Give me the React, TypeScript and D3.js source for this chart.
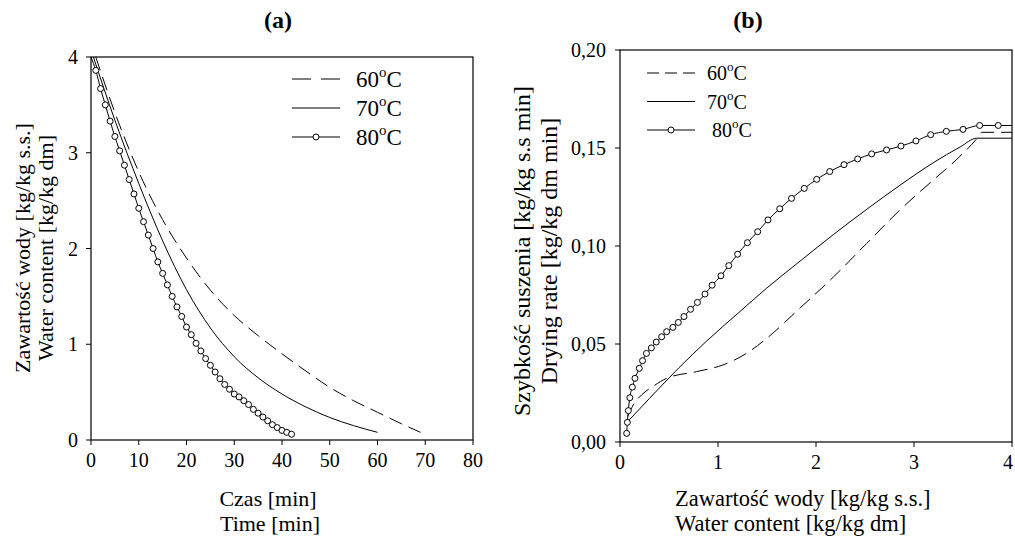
import React from 'react';
import * as d3 from 'd3';

// ---------- Panel (a) data: water content vs time ----------
const timeTicks = [0, 10, 20, 30, 40, 50, 60, 70, 80];
const waterTicksA = [0, 1, 2, 3, 4];

const time60 = [1, 5, 10, 15, 20, 25, 30, 35, 40, 45, 50, 55, 60, 65, 69];
const water60 = [4.0, 3.42, 2.8, 2.3, 1.9, 1.565, 1.3, 1.09, 0.9, 0.72, 0.55, 0.41, 0.29, 0.17, 0.08];

const time70 = [0.5, 5, 10, 15, 20, 25, 30, 35, 40, 45, 50, 55, 60];
const water70 = [4.0, 3.34, 2.68, 2.08, 1.57, 1.17, 0.87, 0.65, 0.48, 0.345, 0.235, 0.15, 0.08];

const time80 = [0, 1, 2, 3, 4, 5, 6, 7, 8, 9, 10, 11, 12, 13, 14, 15, 16, 17, 18, 19, 20, 21, 22, 23, 24, 25, 26, 27, 28, 29, 30, 31, 32, 33, 34, 35, 36, 37, 38, 39, 40, 41, 42];
const water80 = [4.0, 3.86, 3.67, 3.5, 3.33, 3.17, 3.02, 2.87, 2.72, 2.57, 2.42, 2.28, 2.14, 2.0, 1.86, 1.74, 1.62, 1.5, 1.39, 1.29, 1.18, 1.1, 1.01, 0.93, 0.85, 0.78, 0.71, 0.64, 0.58, 0.53, 0.48, 0.45, 0.41, 0.37, 0.32, 0.28, 0.24, 0.2, 0.16, 0.13, 0.1, 0.08, 0.06];

// ---------- Panel (b) data: drying rate vs water content ----------
const waterTicksB = [0, 1, 2, 3, 4];
const rateTicks = [0, 0.05, 0.1, 0.15, 0.2];

const rateX60 = [0.078, 0.136, 0.22, 0.34, 0.476, 0.78, 1.05, 1.29, 1.5, 1.84, 2.18, 2.517, 2.857, 3.197, 3.43, 3.66, 3.69, 4.0];
const rate60 = [0.013, 0.019, 0.024, 0.0285, 0.0325, 0.0359, 0.0393, 0.0452, 0.053, 0.0685, 0.0843, 0.1013, 0.1184, 0.1337, 0.1439, 0.156, 0.158, 0.158];

const rateX70 = [0.078, 0.3, 0.6, 0.884, 1.2, 1.497, 1.85, 2.177, 2.517, 2.857, 3.197, 3.47, 3.64, 4.0];
const rate70 = [0.0104, 0.0222, 0.0378, 0.0515, 0.0655, 0.0785, 0.0928, 0.1058, 0.1187, 0.131, 0.1425, 0.1505, 0.155, 0.155];

const rateX80 = [0.068, 0.075, 0.085, 0.1, 0.126, 0.153, 0.197, 0.23, 0.27, 0.32, 0.37, 0.425, 0.476, 0.54, 0.595, 0.653, 0.72, 0.79, 0.867, 0.94, 1.03, 1.11, 1.2, 1.3, 1.405, 1.51, 1.63, 1.75, 1.88, 2.007, 2.14, 2.286, 2.425, 2.568, 2.72, 2.867, 3.02, 3.17, 3.33, 3.5, 3.67, 3.86];
const rate80 = [0.0044, 0.01, 0.016, 0.0226, 0.028, 0.0325, 0.0376, 0.0415, 0.0452, 0.048, 0.051, 0.0537, 0.0563, 0.0585, 0.061, 0.064, 0.0677, 0.0712, 0.0755, 0.08, 0.0848, 0.09, 0.0958, 0.1017, 0.1073, 0.1133, 0.119, 0.1243, 0.1294, 0.134, 0.138, 0.1415, 0.1444, 0.147, 0.149, 0.151, 0.1536, 0.1568, 0.1585, 0.1595, 0.1615, 0.1615];
const rate80EndX = 4.0;

const legendLabels = ['60', '70', '80'];

const FONT = '"Liberation Serif", "Times New Roman", serif';
const DASH = '14,7';

type Pt = [number, number];
const zip = (a: number[], b: number[]): Pt[] => a.map((v, i) => [v, b[i]]);

function Legend({ x, y, gap, textX, extraSpace, fontSize, dash }: { x: number; y: number; gap: number; textX: number; extraSpace: number; fontSize: number; dash: string }) {
  const len = 48;
  return (
    <g>
      {legendLabels.map((lab, i) => {
        const yy = y + i * gap;
        return (
          <g key={lab}>
            <line x1={x} x2={x + len} y1={yy} y2={yy} stroke="#000" strokeWidth={1}
              strokeDasharray={i === 0 ? dash : undefined} />
            {i === 2 && <circle cx={x + len / 2} cy={yy} r={3} fill="#fff" stroke="#000" strokeWidth={1} />}
            <text x={textX + (i === 2 ? extraSpace : 0)} y={yy + fontSize * 0.35} fontSize={fontSize} fontFamily={FONT}>
              {lab}
              <tspan fontSize={fontSize * 0.65} dy={-fontSize * 0.45}>o</tspan>
              <tspan dy={fontSize * 0.45}>C</tspan>
            </text>
          </g>
        );
      })}
    </g>
  );
}

export default function App() {
  // Panel (a) scales
  const ax = d3.scaleLinear().domain([0, 80]).range([91, 473]);
  const ay = d3.scaleLinear().domain([0, 4]).range([440, 57]);
  // Panel (b) scales
  const bx = d3.scaleLinear().domain([0, 4]).range([620, 1012]);
  const by = d3.scaleLinear().domain([0, 0.2]).range([442, 50]);

  const lineA = d3.line<Pt>().x(d => ax(d[0])).y(d => ay(d[1])).curve(d3.curveMonotoneX);
  const lineB = d3.line<Pt>().x(d => bx(d[0])).y(d => by(d[1])).curve(d3.curveMonotoneX);

  const a60 = zip(time60, water60);
  const a70 = zip(time70, water70);
  const a80 = zip(time80, water80);
  const b60 = zip(rateX60, rate60);
  const b70 = zip(rateX70, rate70);
  const b80 = zip(rateX80, rate80);
  const b80line: Pt[] = [...b80, [rate80EndX, rate80[rate80.length - 1]]];

  const tickLen = 5;

  return (
    <svg width={1015} height={540} style={{ position: 'absolute', left: 0, top: 0 }} fontFamily={FONT}>
      <rect x={0} y={0} width={1015} height={540} fill="#fff" />
      {/* ---------------- Panel (a) ---------------- */}
      <text x={278} y={28} textAnchor="middle" fontSize={24} fontWeight="bold">(a)</text>
      <path d={lineA(a60) || ''} fill="none" stroke="#000" strokeWidth={1} strokeDasharray={DASH} />
      <path d={lineA(a70) || ''} fill="none" stroke="#000" strokeWidth={1} />
      <path d={lineA(a80) || ''} fill="none" stroke="#000" strokeWidth={1} />
      {a80.slice(1).map((d, i) => (
        <circle key={i} cx={ax(d[0])} cy={ay(d[1])} r={3} fill="#fff" stroke="#000" strokeWidth={1} />
      ))}
      <rect x={ax(0)} y={ay(4)} width={ax(80) - ax(0)} height={ay(0) - ay(4)} fill="none" stroke="#000" strokeWidth={1.2} />
      {timeTicks.map(t => (
        <g key={t}>
          <line x1={ax(t)} x2={ax(t)} y1={ay(0)} y2={ay(0) + tickLen} stroke="#000" />
          <text x={ax(t)} y={467} textAnchor="middle" fontSize={20}>{t}</text>
        </g>
      ))}
      {waterTicksA.map(t => (
        <g key={t}>
          <line x1={ax(0) - tickLen} x2={ax(0)} y1={ay(t)} y2={ay(t)} stroke="#000" />
          <text x={78} y={ay(t)} dy="0.35em" textAnchor="end" fontSize={20}>{t}</text>
        </g>
      ))}
      <text x={268} y={506} textAnchor="middle" fontSize={22}>Czas [min]</text>
      <text x={270} y={531} textAnchor="middle" fontSize={22}>Time [min]</text>
      <text transform={`translate(30,248) rotate(-90)`} textAnchor="middle" fontSize={22}>Zawartość wody [kg/kg s.s.]</text>
      <text transform={`translate(53,248) rotate(-90)`} textAnchor="middle" fontSize={22}>Water content [kg/kg dm]</text>
      <Legend x={292} y={79} gap={29} textX={356} extraSpace={0} fontSize={23} dash="19,10" />

      {/* ---------------- Panel (b) ---------------- */}
      <text x={748} y={28} textAnchor="middle" fontSize={24} fontWeight="bold">(b)</text>
      <path d={lineB(b60) || ''} fill="none" stroke="#000" strokeWidth={1} strokeDasharray={DASH} />
      <path d={lineB(b70) || ''} fill="none" stroke="#000" strokeWidth={1} />
      <path d={lineB(b80line) || ''} fill="none" stroke="#000" strokeWidth={1} />
      {b80.map((d, i) => (
        <circle key={i} cx={bx(d[0])} cy={by(d[1])} r={3} fill="#fff" stroke="#000" strokeWidth={1} />
      ))}
      <rect x={bx(0)} y={by(0.2)} width={bx(4) - bx(0)} height={by(0) - by(0.2)} fill="none" stroke="#000" strokeWidth={1.2} />
      {waterTicksB.map(t => (
        <g key={t}>
          <line x1={bx(t)} x2={bx(t)} y1={by(0)} y2={by(0) + tickLen} stroke="#000" />
          <text x={Math.min(bx(t), 1008)} y={469} textAnchor="middle" fontSize={20}>{t}</text>
        </g>
      ))}
      {rateTicks.map(t => (
        <g key={t}>
          <line x1={bx(0) - tickLen} x2={bx(0)} y1={by(t)} y2={by(t)} stroke="#000" />
          <text x={606} y={by(t)} dy="0.35em" textAnchor="end" fontSize={20}>{d3.format('.2f')(t).replace('.', ',')}</text>
        </g>
      ))}
      <text x={675} y={506} fontSize={22.5}>Zawartość wody [kg/kg s.s.]</text>
      <text x={675} y={531} fontSize={22.5}>Water content [kg/kg dm]</text>
      <text transform={`translate(530,251) rotate(-90)`} textAnchor="middle" fontSize={24}>Szybkość suszenia [kg/kg s.s min]</text>
      <text transform={`translate(557,251) rotate(-90)`} textAnchor="middle" fontSize={24}>Drying rate [kg/kg dm min]</text>
      <Legend x={647} y={73} gap={28.5} textX={707} extraSpace={5} fontSize={20} dash="12,6" />
    </svg>
  );
}
